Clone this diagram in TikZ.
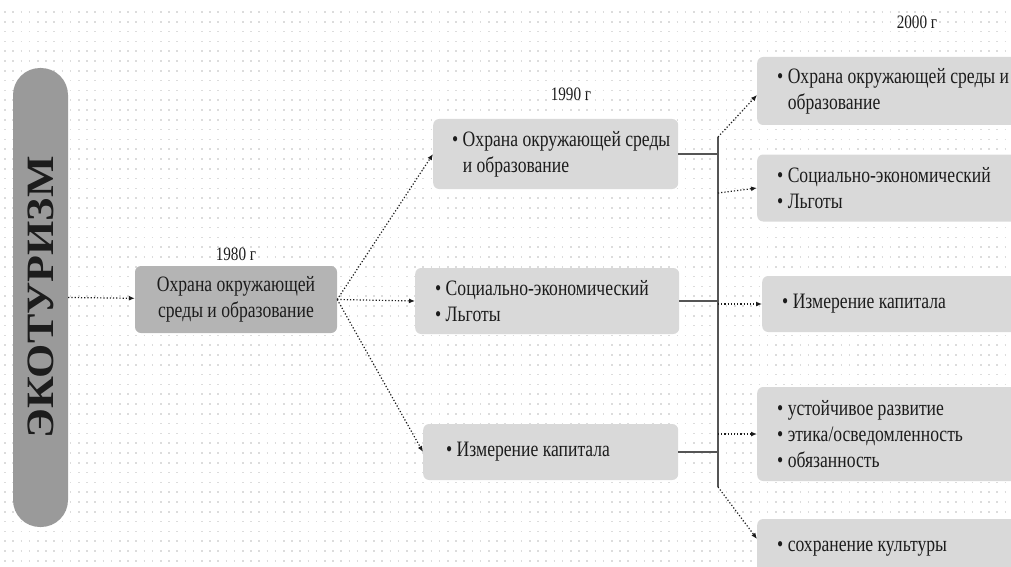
\documentclass[tikz,border=0pt]{standalone}
\usepackage{fontspec}
\usepackage{graphicx}
\setmainfont{Liberation Serif}[FakeStretch=0.8]
\newfontfamily\titlefont{Liberation Serif}
\usetikzlibrary{arrows.meta,positioning,calc}

\definecolor{pillgray}{HTML}{9A9A9A}
\definecolor{midgray}{HTML}{B4B4B4}
\definecolor{boxgray}{HTML}{D9D9D9}
\definecolor{inkgray}{HTML}{1C1C1C}
\definecolor{bargray}{HTML}{555555}
\definecolor{dotgray}{HTML}{DCDCDC}

\newcommand{\itm}[1]{\mbox{\textbullet\ #1}}
\newcommand{\hang}[1]{\mbox{\hphantom{\textbullet\ }#1}}

\begin{document}
\begin{tikzpicture}[
  x=1pt, y=-1pt,
  >={Latex[length=6pt,width=5pt]},
  every node/.style={font=\fontsize{22}{26}\selectfont, text=inkgray},
  box/.style={rounded corners=6pt, anchor=west, align=flush left, inner xsep=20pt, inner ysep=0pt},
  oldbox/.style={rounded corners=6pt, fill=midgray, align=flush center, inner sep=0pt},
  newbox/.style={box, fill=boxgray},
  pill/.style={fill=pillgray, rounded corners=27pt, rotate=90, inner sep=0pt,
               minimum width=459pt, minimum height=55pt},
  year/.style={font=\fontsize{19}{22}\selectfont},
  link/.style={->, dotted, line width=1.2pt, draw=inkgray},
  joint/.style={line width=1.5pt, draw=bargray},
  dotrow/.style={draw=dotgray, line width=1.6pt, dash pattern=on 1.6pt off 6.6pt},
]
\path[use as bounding box, clip] (0,0) rectangle (1011,567);

% dotted paper
\foreach \r in {0,...,57}
  \draw[dotrow] (4.2,{12+9.8*\r}) -- (1011,{12+9.8*\r});

% title bar
\node[pill] (eco) at (40.5,297.5)
  {\scalebox{1}[0.88]{\titlefont\fontsize{44}{44}\selectfont\bfseries ЭКОТУРИЗМ}};

% 1980
\node[oldbox, minimum width=202pt, minimum height=67pt] (b80) at (236,299.5)
  {Охрана окружающей\\среды и образование};
\node[year, above=2pt of b80] (y80) {1980 г};

% 1990
\node[newbox, text width=207pt, minimum height=70pt, inner xsep=19pt] (bA) at (433,154)
  {\itm{Охрана окружающей среды}\\\hang{и образование}};
\node[newbox, text width=224pt, minimum height=66pt] (bB) at (415,301)
  {\itm{Социально-экономический}\\\itm{Льготы}};
\node[newbox, text width=209pt, minimum height=56pt, inner xsep=23pt] (bC) at (423,452)
  {\itm{Измерение капитала}};
\node[year] (y90) at (571,94) {1990 г};

% 2000
\node[newbox, text width=240pt, minimum height=68pt] (b1) at (757,91)
  {\itm{Охрана окружающей среды и}\\\hang{образование}};
\node[newbox, text width=240pt, minimum height=67pt] (b2) at (757,188)
  {\itm{Социально-экономический}\\\itm{Льготы}};
\node[newbox, text width=240pt, minimum height=56pt] (b3) at (762,304)
  {\itm{Измерение капитала}};
\node[newbox, text width=240pt, minimum height=94pt] (b4) at (757,434)
  {\itm{устойчивое развитие}\\\itm{этика/осведомленность}\\\itm{обязанность}};
\node[newbox, text width=240pt, minimum height=60pt] (b5) at (757,549)
  {\itm{сохранение культуры}};
\node[year] (y00) at (917,22) {2000 г};

% flow 1980 -> 1990
\draw[link] (eco.south) -- (b80);
\draw[link] (b80.east) -- (bA.west);
\draw[link] (b80.east) -- (bB.west);
\draw[link] (b80.east) -- (bC.west);

% joint bar
\coordinate (bartop) at (718,137);
\coordinate (barbot) at (718,487);
\coordinate (fork2) at (718,193);
\draw[joint] (bartop) -- (barbot);
\draw[joint] (bA.east) -- (bA.east -| bartop);
\draw[joint] (bB.east) -- (bB.east -| bartop);
\draw[joint] (bC.east) -- (bC.east -| bartop);

% flow 1990 -> 2000
\draw[link] (bartop) -- ([yshift=-4pt]b1.west);
\draw[link] (fork2) -- (b2.west);
\draw[link] (b3.west -| bartop) -- (b3.west);
\draw[link] (b4.west -| bartop) -- (b4.west);
\draw[link] (barbot) -- ([yshift=10pt]b5.west);
\end{tikzpicture}
\end{document}
